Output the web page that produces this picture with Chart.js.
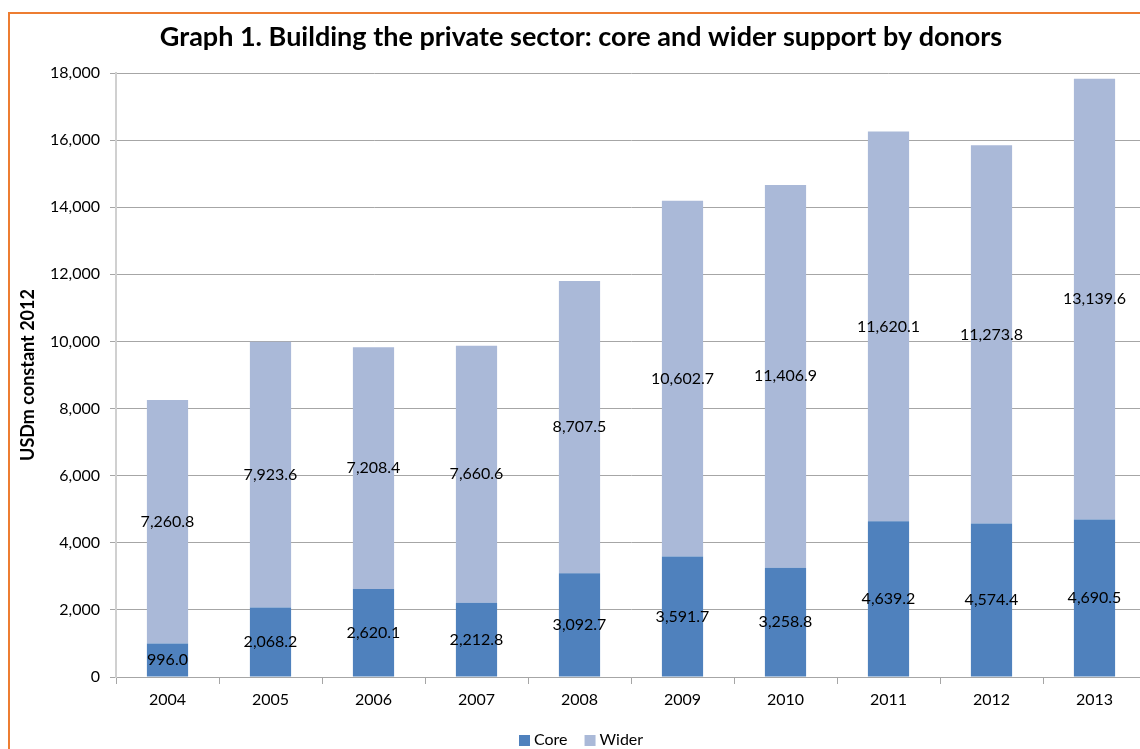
<!DOCTYPE html>
<html>
<head>
<meta charset="utf-8">
<script src="https://cdn.jsdelivr.net/npm/chart.js@4.4.1/dist/chart.umd.min.js"></script>
<style>
html,body{margin:0;padding:0;background:#fff;overflow:hidden;width:1140px;height:749px;}
#frame{position:absolute;left:8px;top:12px;width:2000px;height:2000px;border-top:2px solid #ED7D31;border-left:2px solid #ED7D31;}
#wrap{position:absolute;left:0;top:0;width:1160px;height:749px;}
</style>
</head>
<body>
<div id="frame"></div>
<div id="wrap"><canvas id="c" width="1160" height="749"></canvas></div>
<script>
const years = ["2004","2005","2006","2007","2008","2009","2010","2011","2012","2013"];
const coreValues = [996.0, 2068.2, 2620.1, 2212.8, 3092.7, 3591.7, 3258.8, 4639.2, 4574.4, 4690.5];
const widerValues = [7260.8, 7923.6, 7208.4, 7660.6, 8707.5, 10602.7, 11406.9, 11620.1, 11273.8, 13139.6];
const yTicks = [0, 2000, 4000, 6000, 8000, 10000, 12000, 14000, 16000, 18000];
const titleText = 'Graph 1. Building the private sector: core and wider support by donors';

const FONT = "Lato, 'Open Sans', sans-serif";

const labelPlugin = {
  id: 'segLabels',
  afterDatasetsDraw(chart) {
    const ctx = chart.ctx;
    ctx.save();
    ctx.font = "16px " + FONT;
    ctx.fillStyle = "#000";
    ctx.textAlign = "center";
    ctx.textBaseline = "middle";
    chart.data.datasets.forEach((ds, di) => {
      const meta = chart.getDatasetMeta(di);
      meta.data.forEach((el, i) => {
        const v = ds.data[i];
        const txt = v.toLocaleString('en-US', {minimumFractionDigits: 1, maximumFractionDigits: 1});
        ctx.fillText(txt, el.x, (el.y + el.base) / 2);
      });
    });
    ctx.restore();
  }
};

const titleLegendPlugin = {
  id: 'titleLegend',
  afterDraw(chart) {
    const ctx = chart.ctx;
    ctx.save();
    ctx.fillStyle = '#000';
    ctx.textBaseline = 'middle';
    ctx.textAlign = 'center';
    ctx.font = "bold 27px " + FONT;
    ctx.fillText(titleText, 581, 37);
    // legend
    ctx.font = "16px " + FONT;
    ctx.textAlign = 'left';
    let x = 519;
    chart.data.datasets.forEach(ds => {
      ctx.fillStyle = ds.backgroundColor;
      ctx.fillRect(x, 735, 11, 11);
      ctx.fillStyle = '#000';
      ctx.fillText(ds.label, x + 15, 740);
      x += 15 + ctx.measureText(ds.label).width + 17;
    });
    ctx.restore();
  }
};

new Chart(document.getElementById('c'), {
  type: 'bar',
  data: {
    labels: years,
    datasets: [
      {label: 'Core', data: coreValues, backgroundColor: '#4F81BD', barPercentage: 0.4, categoryPercentage: 1.0},
      {label: 'Wider', data: widerValues, backgroundColor: '#AAB9D8', barPercentage: 0.4, categoryPercentage: 1.0}
    ]
  },
  options: {
    responsive: false,
    animation: false,
    layout: {padding: {left: 0, right: 14, top: 73, bottom: 21}},
    plugins: {
      title: {display: false},
      legend: {display: false},
      tooltip: {enabled: false}
    },
    scales: {
      x: {
        stacked: true,
        grid: {offset: true, drawOnChartArea: false, color: '#A6A6A6', tickLength: 7},
        border: {color: '#A6A6A6'},
        ticks: {color: '#000', font: {family: FONT, size: 16}, padding: 6},
        afterFit(s) { s.height = 51; }
      },
      y: {
        stacked: true,
        min: 0,
        max: 18000,
        afterBuildTicks(s) { s.ticks = yTicks.map(v => ({value: v})); },
        grid: {color: '#A6A6A6', tickLength: 6},
        border: {color: '#D0D0D0', width: 2},
        ticks: {color: '#000', font: {family: FONT, size: 16}, padding: 10,
          callback: v => v.toLocaleString('en-US')},
        title: {display: true, text: 'USDm constant 2012', color: '#000',
          font: {family: FONT, size: 18, weight: 'bold'}, padding: {top: 17, bottom: 0}},
        afterFit(s) { s.width = 116; }
      }
    }
  },
  plugins: [labelPlugin, titleLegendPlugin]
});
</script>
</body>
</html>
